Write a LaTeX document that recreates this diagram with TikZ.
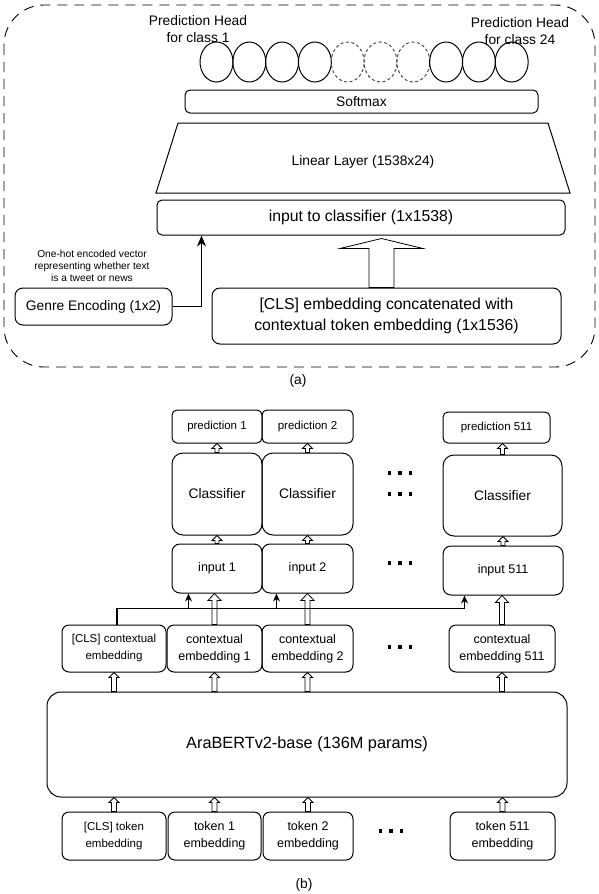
\documentclass[tikz,border=0pt]{standalone}
\usepackage{fontspec}
\setmainfont{Liberation Sans}
\usetikzlibrary{calc, shapes.geometric, arrows.meta}

% hollow block arrow going up: bottom point, top point, shaft half width, head half width, head length
\newcommand{\hollowup}[5]{%
  \draw[fill=white, line width=0.8pt] let \p1=#1, \p2=#2 in
    (\x1-#3pt,\y1) -- (\x1-#3pt,\y2-#5pt) -- (\x1-#4pt,\y2-#5pt) -- (\x1,\y2)
    -- (\x1+#4pt,\y2-#5pt) -- (\x1+#3pt,\y2-#5pt) -- (\x1+#3pt,\y1) -- cycle;}
\newcommand{\threedots}{\rule{3.5pt}{3.5pt}\hspace{7pt}\rule{3.5pt}{3.5pt}\hspace{7pt}\rule{3.5pt}{3.5pt}}

\begin{document}
\begin{tikzpicture}[
    x=1pt, y=-1pt,
    >={Stealth[length=11pt, width=9pt]},
    line width=1pt,
    ftiny/.style={font=\fontsize{10.2}{12}\selectfont},
    fsmall/.style={font=\fontsize{11.5}{17}\selectfont},
    fmid/.style={font=\fontsize{12.5}{17}\selectfont},
    fhead/.style={font=\fontsize{13.8}{16.5}\selectfont},
    fbig/.style={font=\fontsize{15.8}{21}\selectfont},
    box/.style={draw, rounded corners=5pt, align=center, inner sep=0pt},
    bigbox/.style={box, rounded corners=11pt},
    lbl/.style={align=center, inner sep=0pt},
    head/.style={ellipse, draw, minimum width=33pt, minimum height=40pt, inner sep=0pt},
    headdash/.style={head, draw=black!70, dash pattern=on 3pt off 2.5pt},
    dotrow/.style={inner sep=0pt}
]
    \useasboundingbox (0,0) rectangle (598,894);

    % ---------- (a) prediction head ----------
    \draw[dash pattern=on 10pt off 7pt, rounded corners=40pt, line width=0.9pt] (4,5) rectangle (595,367);

    \node[lbl, fhead] (headL) at (198,29) {Prediction Head\\for class 1};
    \node[lbl, fhead] (headR) at (520,31) {Prediction Head\\for class 24};

    % output units
    \foreach \i/\st in {0/head,1/head,2/head,3/head,4/headdash,5/headdash,6/headdash,7/head,8/head,9/head}
        \node[\st] (c\i) at (216.5+32.8*\i, 62) {};

    \node[box, fhead, minimum width=353pt, minimum height=23pt] (soft) at (361.5,101.5) {Softmax};

    % Linear layer (trapezoid)
    \draw (156,193) -- (178,123) -- (548,123) -- (570,193) -- cycle;
    \node[lbl, fhead] (lin) at (363,162) {Linear Layer (1538x24)};

    \node[box, fbig, minimum width=408pt, minimum height=35pt] (inp) at (361,217.5) {input to classifier (1x1538)};

    \node[lbl, ftiny] (hot) at (92,266) {One-hot encoded vector\\representing whether text\\is a tweet or news};
    \node[box, fhead, rounded corners=8pt, minimum width=157pt, minimum height=37pt] (genre) at (93.5,306.5) {Genre Encoding (1x2)};
    \node[box, fbig, rounded corners=8pt, minimum width=349pt, minimum height=56pt] (clsa) at (386.5,316) {[CLS] embedding concatenated with\\contextual token embedding (1x1536)};

    % connections
    \draw[->] (genre.east) -| ($(inp.south west)+(45,0)$);
    \hollowup{($(clsa.north)+(-5,0)$)}{($(inp.south)+(0,3)$)}{12.5}{41.5}{10}

    \node[lbl, fhead] (capA) at (298,381) {(a)};

    % ---------- (b) token classification ----------
    \node[box, fsmall, minimum width=90pt, minimum height=33pt] (pred1) at (217,426.5) {prediction 1};
    \node[box, fsmall, minimum width=91pt, minimum height=33pt] (pred2) at (307.5,426.5) {prediction 2};
    \node[box, fsmall, minimum width=107pt, minimum height=31pt] (pred511) at (496.5,427.5) {prediction 511};

    \node[bigbox, fhead, minimum width=90pt, minimum height=82pt] (cls1) at (217,494) {Classifier};
    \node[bigbox, fhead, minimum width=91pt, minimum height=82pt] (cls2) at (307.5,494) {Classifier};
    \node[bigbox, fhead, minimum width=119pt, minimum height=81pt] (cls511) at (502.5,495.5) {Classifier};

    \node[box, rounded corners=8pt, fmid, minimum width=90pt, minimum height=49pt] (in1) at (217,568.5) {input 1};
    \node[box, rounded corners=8pt, fmid, minimum width=91pt, minimum height=49pt] (in2) at (307.5,568.5) {input 2};
    \node[box, rounded corners=8pt, fmid, minimum width=120pt, minimum height=49pt] (in511) at (503,570.5) {input 511};

    \node[box, rounded corners=7pt, fsmall, minimum width=104pt, minimum height=47pt] (ctxC) at (114,648.5) {[CLS] contextual\\embedding};
    \node[box, rounded corners=7pt, fmid, minimum width=95pt, minimum height=47pt] (ctx1) at (214.5,648.5) {contextual\\embedding 1};
    \node[box, rounded corners=7pt, fmid, minimum width=91pt, minimum height=47pt] (ctx2) at (307.5,648.5) {contextual\\embedding 2};
    \node[box, rounded corners=7pt, fmid, minimum width=106pt, minimum height=47pt] (ctx511) at (502,648.5) {contextual\\embedding 511};

    \node[box, rounded corners=14pt, font=\fontsize{16.3}{20}\selectfont, minimum width=520pt, minimum height=105pt] (bert) at (307,744.5) {AraBERTv2-base (136M params)};

    \node[box, rounded corners=7pt, fsmall, minimum width=104pt, minimum height=48pt] (tokC) at (114,836) {[CLS] token\\embedding};
    \node[box, rounded corners=7pt, fmid, minimum width=93pt, minimum height=48pt] (tok1) at (214.5,836) {token 1\\embedding};
    \node[box, rounded corners=7pt, fmid, minimum width=90pt, minimum height=48pt] (tok2) at (308,836) {token 2\\embedding};
    \node[box, rounded corners=7pt, fmid, minimum width=105pt, minimum height=48pt] (tok511) at (502.5,836) {token 511\\embedding};

    % ellipses between columns
    \node[dotrow] (dotsA) at (400,473) {\threedots};
    \node[dotrow] (dotsB) at (400,494) {\threedots};
    \node[dotrow] (dotsC) at (400,563) {\threedots};
    \node[dotrow] (dotsD) at (400,647) {\threedots};
    \node[dotrow] (dotsE) at (391,831) {\threedots};

    % up the stack
    \hollowup{(cls1.north)}{(pred1.south)}{2}{5}{5}
    \hollowup{(cls2.north)}{(pred2.south)}{2}{5}{5}
    \hollowup{(cls511.north)}{(pred511.south)}{2}{5}{5}
    \hollowup{(in1.north)}{(cls1.south)}{2}{5}{5}
    \hollowup{(in2.north)}{(cls2.south)}{2}{5}{5}
    \hollowup{(in511.north)}{(cls511.south)}{2}{5}{5}
    \hollowup{(ctx1.north)}{(in1.south)}{2.5}{6.5}{7}
    \hollowup{(ctx2.north)}{(in2.south)}{2.5}{6.5}{7}
    \hollowup{(ctx511.north)}{(in511.south)}{2.5}{6.5}{7}
    \hollowup{(ctxC |- bert.north)}{(ctxC.south)}{2.5}{5}{5}
    \hollowup{(ctx1 |- bert.north)}{(ctx1.south)}{2.5}{5}{5}
    \hollowup{(ctx2 |- bert.north)}{(ctx2.south)}{2.5}{5}{5}
    \hollowup{(ctx511 |- bert.north)}{(ctx511.south)}{2.5}{5}{5}
    \hollowup{(tokC.north)}{(tokC |- bert.south)}{2.5}{5}{5}
    \hollowup{(tok1.north)}{(tok1 |- bert.south)}{2.5}{5}{5}
    \hollowup{(tok2.north)}{(tok2 |- bert.south)}{2.5}{5}{5}
    \hollowup{(tok511.north)}{(tok511 |- bert.south)}{2.5}{5}{5}

    % [CLS] contextual embedding fed to every input
    \coordinate (bus) at ($(ctxC.north)+(3,-16)$);
    \coordinate (tap1) at ($(in1.south west)+(17,0)$);
    \coordinate (tap2) at ($(in2.south west)+(15,0)$);
    \coordinate (tap3) at ($(in511.south west)+(22,0)$);
    \draw[line width=1.6pt] (ctxC.north -| bus) -- (bus) -- (bus -| tap3);
    \draw[line width=1.1pt, -{Stealth[length=8pt, width=7pt]}] (bus -| tap1) -- (tap1);
    \draw[line width=1.1pt, -{Stealth[length=8pt, width=7pt]}] (bus -| tap2) -- (tap2);
    \draw[line width=1.1pt, -{Stealth[length=8pt, width=7pt]}] (bus -| tap3) -- (tap3);

    \node[lbl, fhead] (capB) at (304,885) {(b)};

\end{tikzpicture}
\end{document}
